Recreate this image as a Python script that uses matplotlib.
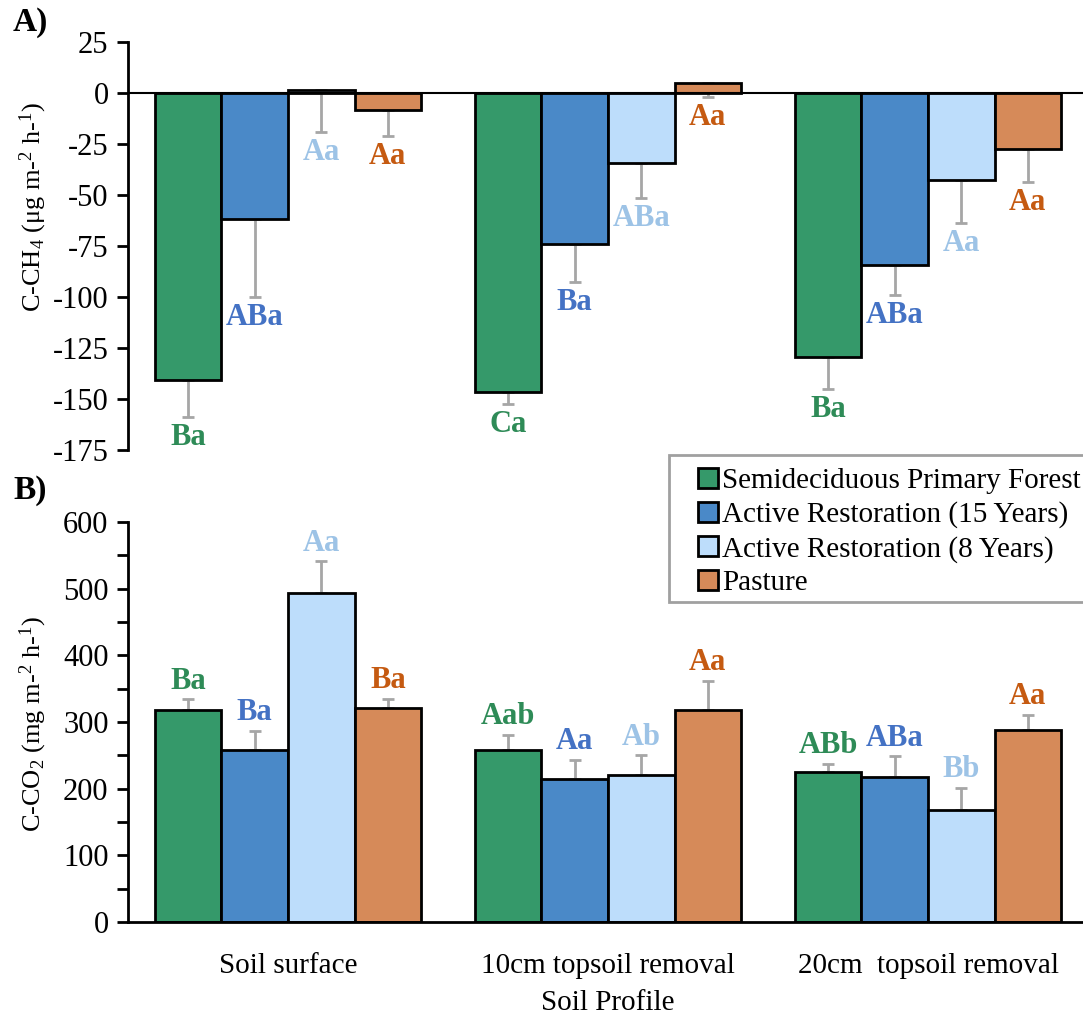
import numpy as np
import matplotlib.pyplot as plt
from matplotlib.patches import Rectangle
from matplotlib.ticker import MultipleLocator

plt.rcParams['font.family'] = ['Liberation Serif', 'DejaVu Serif']
plt.rcParams['mathtext.fontset'] = 'custom'
plt.rcParams['mathtext.rm'] = 'Liberation Serif'
plt.rcParams['mathtext.it'] = 'Liberation Serif:italic'
plt.rcParams['mathtext.bf'] = 'Liberation Serif:bold'
plt.rcParams['axes.unicode_minus'] = False

profiles = ['Soil surface', '10cm topsoil removal', '20cm  topsoil removal']
series = ['Semideciduous Primary Forest', 'Active Restoration (15 Years)',
          'Active Restoration (8 Years)', 'Pasture']
bar_colors = ['#35996A', '#4A89C8', '#BDDDFB', '#D68A59']
text_colors = ['#2E8B57', '#4472C4', '#9DC3E6', '#C55A11']

# C-CH4, one row per series, columns = soil profile
ch4 = [[-140.5, -146.4, -129.6],
       [-61.8, -74.0, -84.3],
       [1.6, -34.5, -42.5],
       [-8.5, 4.9, -27.3]]
ch4_err = [[18.2, 6.1, 15.5],
           [38.4, 18.8, 14.6],
           [20.7, 16.8, 21.2],
           [12.8, 6.9, 16.3]]
ch4_lab = [['Ba', 'Ca', 'Ba'],
           ['ABa', 'Ba', 'ABa'],
           ['Aa', 'ABa', 'Aa'],
           ['Aa', 'Aa', 'Aa']]

# C-CO2
co2 = [[318.4, 258.0, 224.7],
       [258.3, 213.8, 217.7],
       [493.3, 221.0, 167.3],
       [321.0, 317.8, 288.5]]
co2_err = [[15.7, 22.5, 13.0],
           [28.7, 29.9, 30.9],
           [47.7, 29.0, 34.2],
           [13.6, 43.9, 22.3]]
co2_lab = [['Ba', 'Aab', 'ABb'],
           ['Ba', 'Aa', 'ABa'],
           ['Aa', 'Ab', 'Bb'],
           ['Ba', 'Aa', 'Aa']]

W, H = 1083, 1016
fig = plt.figure(figsize=(W / 100, H / 100), dpi=100)
left = 128 / W
width = 960 / W
ax1 = fig.add_axes([left, 1 - 450 / H, width, 408 / H])
ax2 = fig.add_axes([left, 1 - 922 / H, width, 400 / H])

x = np.arange(len(profiles))
w = 0.208
FS = 21

for ax, vals, errs, labs, top in [(ax1, ch4, ch4_err, ch4_lab, True),
                                  (ax2, co2, co2_err, co2_lab, False)]:
    for j in range(4):
        pos = x + (j - 1.5) * w
        v = np.array(vals[j])
        e = np.array(errs[j])
        ax.bar(pos, v, w, color=bar_colors[j], edgecolor='black', linewidth=2,
               label=series[j], zorder=2)
        if top:
            yerr = [e, np.zeros_like(e)]
        else:
            yerr = [np.zeros_like(e), e]
        ax.errorbar(pos, v, yerr=yerr, fmt='none', ecolor='#A6A6A6',
                    elinewidth=2, capsize=4.5, capthick=2, zorder=1)
        for k in range(3):
            if top:
                ty = v[k] - e[k] - 10
            else:
                ty = v[k] + e[k] + 27
            ax.text(pos[k], ty, labs[j][k], color=text_colors[j], ha='center',
                    va='center', fontsize=22, fontweight='bold')
    ax.set_xlim(-0.5, 2.5)
    for s in ['top', 'right']:
        ax.spines[s].set_visible(False)
    ax.spines['left'].set_linewidth(2)
    ax.tick_params(axis='y', which='both', direction='out', length=8, width=2,
                   labelsize=22, pad=6)

# panel A
ax1.set_ylim(-175, 25)
ax1.yaxis.set_major_locator(MultipleLocator(25))
ax1.spines['bottom'].set_visible(False)
ax1.axhline(0, color='black', linewidth=1.5, zorder=3)
ax1.set_xticks([])
ax1.set_ylabel('C-CH$_4$ (μg m-$^2$ h-$^1$)', fontsize=19)
ax1.yaxis.set_label_coords(-0.082, 0.596)

# panel B
ax2.set_ylim(0, 600)
ax2.yaxis.set_major_locator(MultipleLocator(100))
ax2.yaxis.set_minor_locator(MultipleLocator(50))
ax2.spines['bottom'].set_linewidth(2)
ax2.set_xticks(x)
ax2.set_xticklabels(profiles, fontsize=FS)
ax2.tick_params(axis='x', length=0, pad=22)
ax2.set_xlabel('Soil Profile', fontsize=FS, labelpad=8)
ax2.set_ylabel('C-CO$_2$ (mg m-$^2$ h-$^1$)', fontsize=19)
ax2.yaxis.set_label_coords(-0.082, 0.495)

fig.text(30 / W, 1 - 22 / H, 'A)', fontsize=24, fontweight='bold',
         ha='center', va='center')
fig.text(30 / W, 1 - 490 / H, 'B)', fontsize=24, fontweight='bold',
         ha='center', va='center')

# legend frame runs past the right edge of the figure
fig.patches.append(Rectangle((669 / W, 1 - 602 / H), 450 / W, 147 / H,
                             transform=fig.transFigure, facecolor='white',
                             edgecolor='#A0A0A0', linewidth=2, zorder=5))
handles, names = ax2.get_legend_handles_labels()
leg = fig.legend(handles, names, loc='upper left',
                 bbox_to_anchor=(692 / W, 1 - 462 / H), fontsize=FS,
                 frameon=False, handlelength=0.7, handleheight=0.7,
                 handletextpad=0.12, labelspacing=0.25, borderpad=0.2,
                 borderaxespad=0)
leg.set_zorder(6)

fig.savefig('out.png', dpi=100)
